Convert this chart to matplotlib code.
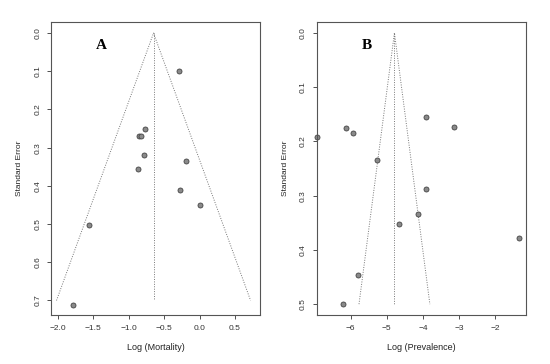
import matplotlib.pyplot as plt

# Panel A: log mortality vs standard error
mort_x = [-0.295, -0.777, -0.858, -0.825, -0.787, -0.196, -0.863, -0.281, 0.007, -1.557, -1.79]
mort_se = [0.098, 0.251, 0.269, 0.269, 0.318, 0.335, 0.356, 0.410, 0.450, 0.503, 0.712]
mort_center = -0.65
mort_se_max = 0.70

# Panel B: log prevalence vs standard error
prev_x = [-6.92, -6.14, -5.93, -5.26, -3.93, -3.13, -3.91, -4.15, -4.67, -1.34, -5.80, -6.21]
prev_se = [0.192, 0.176, 0.185, 0.235, 0.156, 0.173, 0.288, 0.333, 0.353, 0.378, 0.447, 0.499]
prev_center = -4.79
prev_se_max = 0.50

plt.rcParams['font.family'] = ['Liberation Sans', 'DejaVu Sans']


def funnel(ax, x, se, center, se_max, xlim, ylim, xticks, yticks, xlabels, xlabel, letter):
    ax.plot([center - 1.96 * se_max, center, center + 1.96 * se_max],
            [se_max, 0, se_max], color='#777777', lw=0.7, ls=(0, (1, 1.5)))
    ax.plot([center, center], [0, se_max], color='#777777', lw=0.7, ls=(0, (1, 1.5)))
    ax.plot(x, se, 'o', ms=3.6, mfc='#8a8a8a', mec='#444444', mew=0.6, clip_on=False)

    ax.set_xlim(*xlim)
    ax.set_ylim(*ylim)
    ax.set_xticks(xticks)
    ax.set_yticks(yticks)
    ax.set_xticklabels(xlabels)
    ax.set_yticklabels(['%.1f' % t for t in yticks], rotation=90, va='center')
    ax.tick_params(labelsize=6, length=3, width=0.6, color='#333333', labelcolor='#333333', pad=4)
    for s in ax.spines.values():
        s.set_linewidth(0.8)
        s.set_color('#555555')
    ax.set_xlabel(xlabel, fontsize=6.5, color='#222222', labelpad=8)
    ax.set_ylabel('Standard Error', fontsize=6, color='#222222', labelpad=8)
    ax.text(0.24, 0.92, letter, transform=ax.transAxes, fontsize=11,
            fontweight='bold', family=['Liberation Serif', 'DejaVu Serif'],
            ha='center', va='center')


def main():
    fig = plt.figure(figsize=(5.5, 3.64), dpi=100)
    ax1 = fig.add_axes([0.0927, 0.1346, 0.38, 0.805])
    ax2 = fig.add_axes([0.5758, 0.1346, 0.38, 0.805])

    funnel(ax1, mort_x, mort_se, mort_center, mort_se_max,
           (-2.1, 0.855), (0.738, -0.029),
           [-2.0, -1.5, -1.0, -0.5, 0.0, 0.5],
           [0.0, 0.1, 0.2, 0.3, 0.4, 0.5, 0.6, 0.7],
           ['\u22122.0', '\u22121.5', '\u22121.0', '\u22120.5', '0.0', '0.5'],
           'Log (Mortality)', 'A')

    funnel(ax2, prev_x, prev_se, prev_center, prev_se_max,
           (-6.94, -1.16), (0.52, -0.02),
           [-6, -5, -4, -3, -2],
           [0.0, 0.1, 0.2, 0.3, 0.4, 0.5],
           ['\u22126', '\u22125', '\u22124', '\u22123', '\u22122'],
           'Log (Prevalence)', 'B')

    fig.savefig('out.png', dpi=100)


if __name__ == "__main__":
    main()
